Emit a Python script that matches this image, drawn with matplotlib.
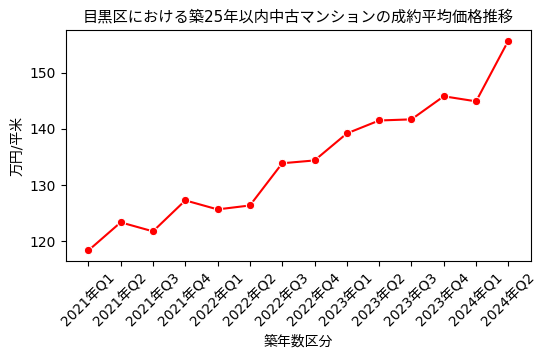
import matplotlib
matplotlib.use("Agg")
import matplotlib.pyplot as plt

plt.rcParams["font.family"] = ["DejaVu Sans", "Noto Sans CJK JP"]

quarters = [
    "2021年Q1", "2021年Q2", "2021年Q3", "2021年Q4",
    "2022年Q1", "2022年Q2", "2022年Q3", "2022年Q4",
    "2023年Q1", "2023年Q2", "2023年Q3", "2023年Q4",
    "2024年Q1", "2024年Q2",
]
prices = [118.4, 123.4, 121.8, 127.3, 125.7, 126.4, 133.9,
          134.4, 139.2, 141.5, 141.7, 145.8, 144.9, 155.7]

fig, ax = plt.subplots(figsize=(5.48, 3.58), dpi=100)
x = list(range(len(quarters)))
ax.plot(x, prices, color="red", marker="o", markersize=6,
        markeredgecolor="white", markeredgewidth=0.75, linewidth=1.5)
ax.set_xticks(x)
ax.set_xticklabels(quarters, rotation=45)
ax.set_xlim(-0.7, len(quarters) - 1 + 0.7)
ax.set_title("目黒区における築25年以内中古マンションの成約平均価格推移", fontsize=11)
ax.set_xlabel("築年数区分")
ax.set_ylabel("万円/平米")

fig.subplots_adjust(left=0.12, right=0.969, top=0.916, bottom=0.271)
fig.savefig("out.png")
